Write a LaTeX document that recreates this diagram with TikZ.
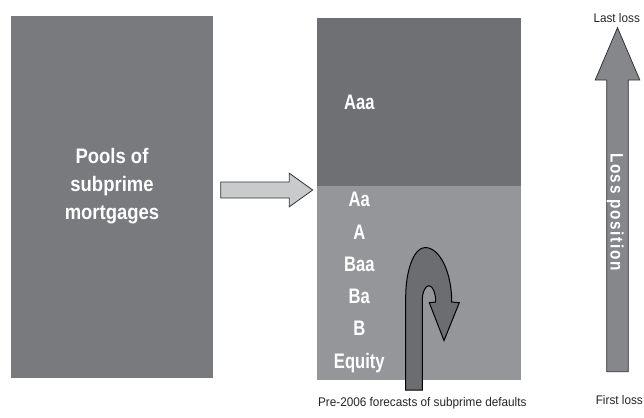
\documentclass[tikz,border=0pt]{standalone}
\usepackage{fontspec}
\setmainfont{Liberation Sans}
\newfontfamily\poolfont{Liberation Sans}[FakeStretch=0.88]
\newfontfamily\tranchefont{Liberation Sans}[FakeStretch=0.79]
\newfontfamily\lossfont{Liberation Sans}[FakeStretch=0.85,LetterSpace=9]
\newfontfamily\smallfont{Liberation Sans}[FakeStretch=0.94]
\definecolor{poolgray}{RGB}{121,122,126}
\definecolor{seniorgray}{RGB}{111,112,116}
\definecolor{juniorgray}{RGB}{149,150,153}
\definecolor{flowgray}{RGB}{201,202,204}
\definecolor{curvegray}{RGB}{108,109,113}
\definecolor{lossgray}{RGB}{134,135,139}
\definecolor{edgegray}{RGB}{50,50,52}
\tikzset{
  block/.style={rectangle, draw=none, inner sep=0pt},
  bigtext/.style={text=white, font=\poolfont\bfseries\fontsize{21bp}{28bp}\selectfont, anchor=base, inner sep=0pt},
  tranche/.style={text=white, font=\tranchefont\bfseries\fontsize{21bp}{25bp}\selectfont, anchor=base, inner sep=0pt},
  smalltext/.style={text=black!85, font=\smallfont\fontsize{12.5bp}{15bp}\selectfont, anchor=base, inner sep=0pt},
  blockarrow/.style={draw=edgegray, line width=0.8bp, line join=miter},
}
\begin{document}
\begin{tikzpicture}[x=1bp,y=-1bp]
\useasboundingbox[fill=white] (0,0) rectangle (644,417);
% pool of mortgages
\node[block, fill=poolgray, minimum width=202bp, minimum height=362bp] (pool) at (112,197) {};
\node[bigtext] (t1) at (112,163.3) {Pools of};
\node[bigtext] (t2) at (112,191.3) {subprime};
\node[bigtext] (t3) at (112,219.3) {mortgages};
% tranches
\node[block, fill=seniorgray, minimum width=204bp, minimum height=167.5bp] (senior) at (419,101.75) {};
\node[block, fill=juniorgray, minimum width=204bp, minimum height=194.5bp] (junior) at (419,282.75) {};
\node[tranche] (aaa) at (359.3,109.2) {Aaa};
\node[tranche] (aa) at (359.3,206.5) {Aa};
\node[tranche] (a) at (359.3,239.2) {A};
\node[tranche] (baa) at (359.3,271.8) {Baa};
\node[tranche] (ba) at (359.3,303.5) {Ba};
\node[tranche] (b) at (359.3,335.8) {B};
\node[tranche] (eq) at (359.3,368.5) {Equity};
% flow arrow from pool to tranches
\draw[blockarrow, fill=flowgray]
  (220.7,182) -- (289.3,182) -- (289.3,173.2) -- (312.7,190) -- (289.3,206.8)
  -- (289.3,198) -- (220.7,198) -- cycle;
% curved arrow (defaults)
\draw[draw=black, line width=1bp, fill=curvegray, line join=miter]
  (405.7,390) -- (405.7,297)
  .. controls (405.7,269.7) and (414.3,247.5) .. (425,247.5)
  .. controls (439.7,247.5) and (451.7,271.9) .. (451.7,302)
  -- (459.3,302.7) -- (444,340.5) -- (429.3,302.7) -- (435.7,302)
  .. controls (435.7,293) and (432.7,285.7) .. (429,285.7)
  .. controls (425.3,285.7) and (422.3,292.1) .. (422.3,300)
  -- (422.3,390) -- cycle;
\node[smalltext] (pre) at (422.3,406) {Pre-2006 forecasts of subprime defaults};
% loss position arrow
\draw[blockarrow, fill=lossgray]
  (606.7,371.7) -- (606.7,80) -- (595.2,80) -- (617.5,27.7) -- (639.8,80)
  -- (628.3,80) -- (628.3,371.7) -- cycle;
\node[text=white, font=\lossfont\bfseries\fontsize{18bp}{20bp}\selectfont, anchor=base, inner sep=0pt, rotate=-90] (loss) at (610.5,211.7) {Loss position};
\node[smalltext] (last) at (616.7,22.8) {Last loss};
\node[smalltext] (first) at (619.3,404.5) {First loss};
\end{tikzpicture}
\end{document}
